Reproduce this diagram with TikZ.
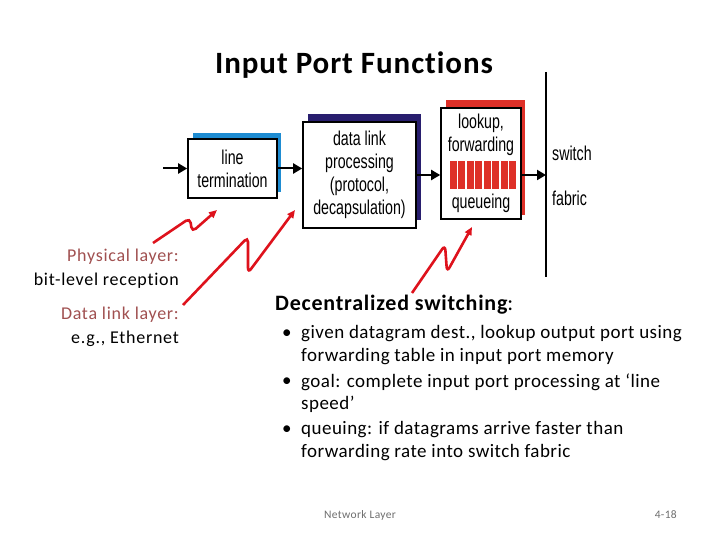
\documentclass[tikz,border=0pt]{standalone}
\usepackage{fontspec}
\setmainfont[Ligatures=CommonOff]{Carlito}
\newfontfamily\arialf{Liberation Sans}
\usetikzlibrary{arrows.meta}
\definecolor{lblue}{RGB}{30,140,210}
\definecolor{navyc}{RGB}{40,30,110}
\definecolor{redc}{RGB}{222,48,40}
\definecolor{zig}{RGB}{222,18,28}
\definecolor{labc}{RGB}{160,80,80}
\definecolor{footc}{RGB}{110,110,110}
\newcommand\nar[1]{\scalebox{0.71}[1]{#1}}
\tikzset{
  box/.style={draw=black, line width=1.6pt, fill=white, inner sep=0pt},
  boxtxt/.style={font=\arialf\fontsize{20}{23}\selectfont, align=center, inner sep=0pt},
  flow/.style={draw=black, line width=2pt, -{Triangle[length=9pt,width=10pt]}},
  zigzag/.style={draw=zig, line width=2.6pt, rounded corners=5pt, -{Triangle[length=8pt,width=7pt]}},
  lab/.style={font=\fontsize{18}{20}\selectfont\addfontfeature{LetterSpace=4}, anchor=east, inner sep=0pt},
  bul/.style={font=\fontsize{19}{22.5}\selectfont\addfontfeature{LetterSpace=2.5}, anchor=west, align=left, inner sep=0pt},
  foot/.style={font=\fontsize{11.5}{13}\selectfont\addfontfeature{LetterSpace=3}, text=footc, inner sep=0pt},
}
\begin{document}
\begin{tikzpicture}[x=1pt,y=-1pt]
\useasboundingbox (0,0) rectangle (720,540);
% title
\node[font=\bfseries\fontsize{31}{34}\selectfont\addfontfeature{LetterSpace=3}] (title) at (354,65) {Input Port Functions};
% shadows
\fill[lblue] (193,133) rectangle (281,192);
\fill[navyc] (308,114) rectangle (421,220);
\fill[redc] (446,100) rectangle (525,215);
% boxes
\node[box, minimum width=89pt, minimum height=59pt, boxtxt] (lt) at (232.5,168.5) {\nar{line}\\\nar{termination}};
\node[box, minimum width=113pt, minimum height=106pt, boxtxt] (dl) at (359.5,175) {\nar{data link}\\\nar{processing}\\\nar{(protocol,}\\\nar{decapsulation)}};
\node[box, minimum width=80pt, minimum height=111pt] (lk) at (481,163.5) {};
\node[boxtxt] (lk1) at (481,123) {\nar{lookup,}};
\node[boxtxt] (lk2) at (481,146) {\nar{forwarding}};
\node[boxtxt] (lk3) at (481,203) {\nar{queueing}};
\foreach \i in {0,...,7} {
  \fill[redc] ({450+\i*8.45},161) rectangle ({450+\i*8.45+7},189);
}
% switch fabric
\coordinate (fabTop) at (546,72);
\coordinate (fabBot) at (546,277);
\draw[line width=1.6pt] (fabTop) -- (fabBot);
\node[boxtxt, anchor=west] (sw) at (552,153) {\nar{switch}};
\node[boxtxt, anchor=west] (fb) at (552,198) {\nar{fabric}};
% flow arrows
\coordinate (in) at (163,168.5);
\draw[flow] (in) -- (lt);
\draw[flow] (lt.east) -- (lt.east -| dl.west);
\draw[flow] (dl.east) -- (dl.east -| lk.west);
\draw[flow] (lk.east |- dl.east) -- (fabTop |- dl.east);
% zigzags
\coordinate (z1a) at (153,243); \coordinate (z1b) at (217,210);
\coordinate (z2a) at (183,305); \coordinate (z2b) at (295,210);
\coordinate (z3a) at (412,293); \coordinate (z3b) at (472,227);
\draw[zigzag] (z1a) -- (190,218) -- (192,232) -- (z1b);
\draw[zigzag] (z2a) -- (248,237) -- (248,273) -- (z2b);
\draw[zigzag] (z3a) -- (445,245) -- (447,272) -- (z3b);
% left labels
\node[lab, text=labc] (p1) at (179,257) {Physical layer:};
\node[lab] (p2) at (179,281) {bit-level reception};
\node[lab, text=labc] (d1) at (179,315) {Data link layer:};
\node[lab] (d2) at (179,339) {e.g., Ethernet};
% decentralized switching
\node[font=\fontsize{22}{24}\selectfont\addfontfeature{LetterSpace=3.5}, anchor=west, inner sep=0pt] (ds) at (275,305) {\bfseries Decentralized switching\mdseries:};
\node[bul] (k1) at (282,334) {•};
\node[bul] (k2) at (282,382) {•};
\node[bul] (k3) at (282,430) {•};
\node[bul] (b1) at (301,345) {given datagram dest., lookup output port using\\forwarding table in input port memory};
\node[bul] (b2) at (301,393) {goal: complete input port processing at ‘line\\speed’};
\node[bul] (b3) at (301,441) {queuing: if datagrams arrive faster than\\forwarding rate into switch fabric};
% footer
\node[foot, anchor=west] (f1) at (324,515) {Network Layer};
\node[foot, anchor=east] (f2) at (677,515) {4-18};
\end{tikzpicture}
\end{document}
